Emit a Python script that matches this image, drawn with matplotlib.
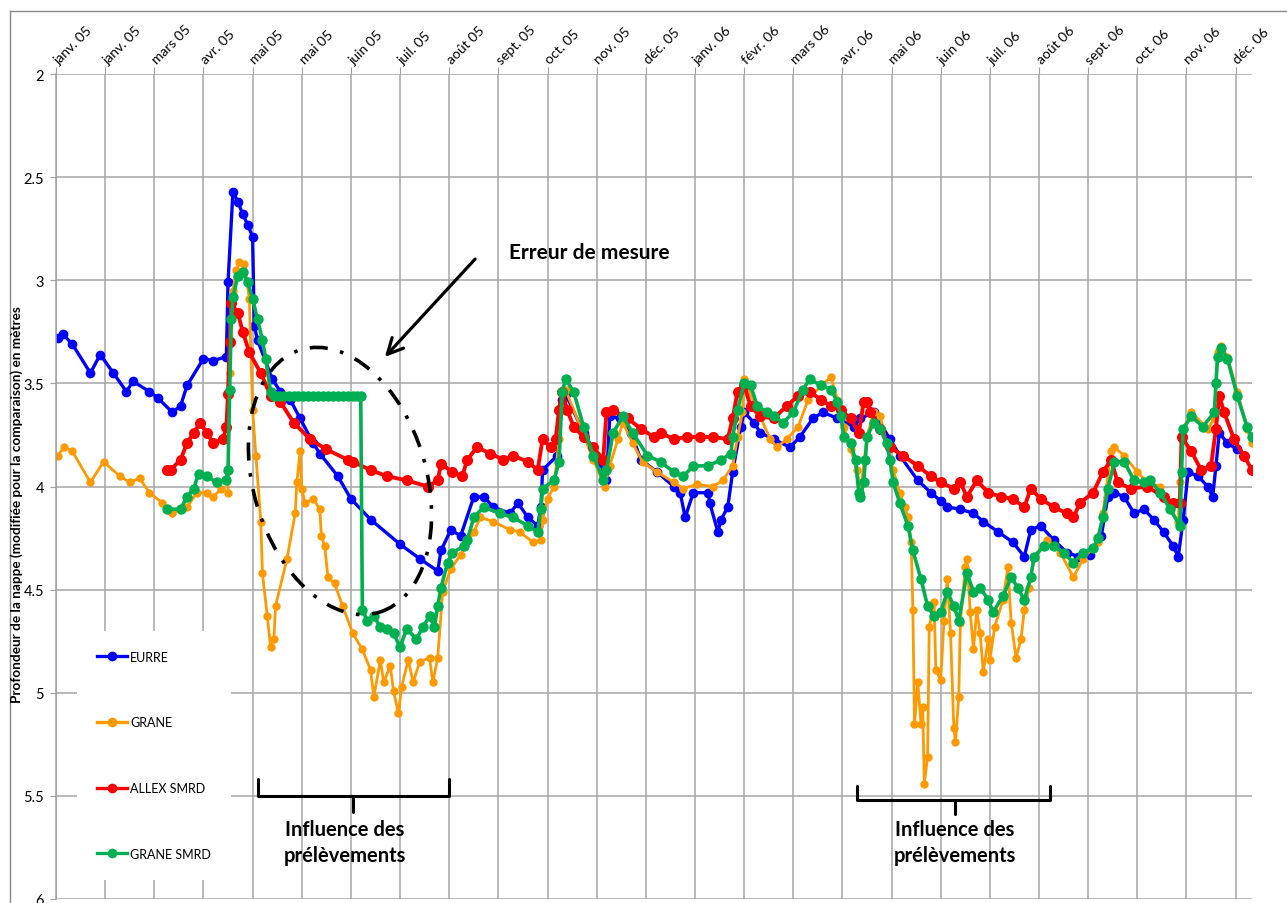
# %% Libraries
import matplotlib.pyplot as plt
from matplotlib.patches import Ellipse
from matplotlib.transforms import IdentityTransform

plt.rcParams['font.family'] = ['Lato', 'DejaVu Sans']

# %% Data (x = days since 1 Jan 2005, y = depth in m)
tick_days = list(range(0, 721, 30))
tick_labels = ['janv. 05', 'janv. 05', 'mars 05', 'avr. 05', 'mai 05', 'mai 05', 'juin 05',
               'juil. 05', 'août 05', 'sept. 05', 'oct. 05', 'nov. 05', 'déc. 05', 'janv. 06',
               'févr. 06', 'mars 06', 'avr. 06', 'mai 06', 'juin 06', 'juil. 06', 'août 06',
               'sept. 06', 'oct. 06', 'nov. 06', 'déc. 06']

eurre_day = [1, 4, 10, 21, 27, 35, 43, 47, 57, 62, 71, 76, 80, 90, 96, 104, 105, 108, 111, 114,
             117, 120, 121, 123, 132, 137, 143, 149, 157, 161, 172, 180, 192, 210, 222, 233, 235,
             241, 247, 255, 261, 267, 277, 282, 288, 294, 296, 297, 306, 309, 311, 322, 332, 336,
             338, 344, 351, 357, 367, 377, 381, 384, 389, 398, 399, 404, 406, 410, 413, 418, 420,
             426, 430, 438, 448, 454, 462, 468, 477, 487, 491, 499, 509, 515, 526, 534, 540, 544,
             552, 560, 566, 575, 584, 591, 595, 601, 609, 617, 624, 631, 638, 642, 646, 652, 658,
             664, 670, 676, 682, 685, 688, 691, 697, 703, 706, 708, 710, 715, 721, 725]
eurre_val = [3.28, 3.26, 3.31, 3.45, 3.36, 3.45, 3.54, 3.49, 3.54, 3.57, 3.64, 3.61, 3.51, 3.38,
             3.39, 3.37, 3.01, 2.57, 2.62, 2.68, 2.73, 2.79, 3.22, 3.29, 3.48, 3.54, 3.58, 3.67,
             3.79, 3.84, 3.95, 4.06, 4.16, 4.28, 4.35, 4.41, 4.31, 4.21, 4.24, 4.05, 4.05, 4.10,
             4.13, 4.08, 4.15, 4.19, 4.10, 3.92, 3.85, 3.58, 3.55, 3.74, 3.88, 3.97, 3.66, 3.67,
             3.74, 3.87, 3.93, 4.00, 4.03, 4.15, 4.03, 4.03, 4.08, 4.22, 4.16, 4.10, 3.93, 3.71,
             3.64, 3.69, 3.74, 3.77, 3.81, 3.76, 3.67, 3.64, 3.67, 3.71, 3.67, 3.64, 3.77, 3.85,
             3.97, 4.03, 4.07, 4.10, 4.11, 4.13, 4.17, 4.22, 4.27, 4.34, 4.21, 4.19, 4.26, 4.32,
             4.34, 4.33, 4.24, 4.05, 4.03, 4.05, 4.13, 4.11, 4.16, 4.22, 4.29, 4.34, 4.16, 3.93,
             3.95, 4.00, 4.05, 3.90, 3.74, 3.79, 3.82, 3.85]

grane_day = [1, 5, 10, 21, 29, 39, 45, 51, 57, 65, 71, 80, 86, 92, 96, 101, 105, 106, 108, 110,
             112, 115, 118, 120, 122, 125, 126, 129, 131, 133, 134, 141, 146, 147, 149, 150, 152,
             157, 161, 162, 164, 166, 170, 175, 181, 187, 192, 194, 198, 200, 204, 206, 209, 211,
             215, 218, 222, 228, 230, 233, 236, 241, 247, 255, 259, 267, 277, 283, 291, 296, 297,
             300, 304, 307, 308, 311, 320, 328, 335, 338, 343, 346, 352, 358, 367, 377, 383, 391,
             401, 407, 413, 416, 419, 420, 428, 436, 440, 446, 453, 459, 467, 473, 477, 481, 485,
             489, 491, 495, 499, 503, 507, 511, 515, 518, 520, 522, 523, 524, 526, 528, 529, 530,
             532, 533, 536, 537, 540, 542, 544, 546, 548, 549, 551, 552, 555, 556, 558, 560, 562,
             564, 566, 569, 570, 573, 578, 581, 583, 586, 589, 591, 594, 597, 605, 613, 621, 627,
             636, 639, 644, 646, 652, 660, 666, 674, 680, 685, 686, 688, 693, 703, 707, 709, 711,
             715, 721, 727, 730]
grane_val = [3.85, 3.81, 3.83, 3.98, 3.88, 3.95, 3.98, 3.96, 4.03, 4.08, 4.13, 4.10, 4.03, 4.03,
             4.05, 4.01, 4.03, 3.45, 3.05, 2.95, 2.91, 2.92, 3.09, 3.63, 3.85, 4.17, 4.42, 4.63,
             4.78, 4.74, 4.58, 4.35, 4.13, 3.98, 3.83, 4.01, 4.08, 4.06, 4.11, 4.24, 4.29, 4.44,
             4.47, 4.58, 4.71, 4.79, 4.89, 5.02, 4.84, 4.95, 4.87, 4.99, 5.10, 4.97, 4.84, 4.95,
             4.85, 4.83, 4.95, 4.83, 4.51, 4.40, 4.33, 4.22, 4.15, 4.17, 4.21, 4.22, 4.27, 4.26,
             4.16, 4.06, 4.00, 3.77, 3.63, 3.53, 3.71, 3.87, 4.00, 3.90, 3.77, 3.69, 3.79, 3.88,
             3.93, 3.98, 4.01, 3.99, 4.00, 3.97, 3.90, 3.76, 3.64, 3.48, 3.63, 3.77, 3.81, 3.77,
             3.71, 3.58, 3.51, 3.47, 3.58, 3.71, 3.82, 3.92, 4.03, 3.76, 3.64, 3.66, 3.79, 3.92,
             4.03, 4.10, 4.15, 4.27, 4.60, 5.15, 4.95, 5.15, 5.07, 5.44, 5.31, 4.68, 4.56, 4.89,
             4.94, 4.65, 4.45, 4.71, 5.17, 5.24, 5.02, 4.66, 4.39, 4.35, 4.61, 4.79, 4.60, 4.71,
             4.90, 4.74, 4.84, 4.68, 4.55, 4.39, 4.66, 4.83, 4.74, 4.60, 4.49, 4.34, 4.26, 4.32,
             4.44, 4.35, 4.27, 4.13, 3.83, 3.81, 3.85, 3.93, 3.98, 4.00, 4.11, 4.17, 3.98, 3.72,
             3.64, 3.72, 3.67, 3.35, 3.32, 3.37, 3.54, 3.72, 3.79]

allex_day = [68, 70, 76, 80, 84, 88, 92, 96, 102, 104, 105, 106, 107, 111, 114, 118, 125, 131,
             137, 145, 155, 165, 178, 181, 192, 202, 214, 227, 233, 235, 242, 248, 251, 257, 265,
             273, 279, 288, 294, 297, 302, 305, 307, 309, 312, 316, 322, 328, 334, 336, 340, 349,
             357, 365, 369, 377, 385, 393, 401, 410, 413, 416, 420, 424, 430, 438, 446, 453, 460,
             467, 473, 479, 485, 490, 493, 495, 497, 503, 509, 517, 526, 534, 540, 548, 552, 556,
             562, 569, 577, 584, 591, 595, 601, 609, 617, 621, 625, 633, 639, 644, 648, 656, 666,
             676, 682, 686, 687, 693, 699, 705, 708, 710, 713, 719, 725, 730]
allex_val = [3.92, 3.92, 3.87, 3.79, 3.74, 3.69, 3.74, 3.79, 3.77, 3.71, 3.55, 3.30, 3.11, 3.16,
             3.25, 3.35, 3.45, 3.56, 3.59, 3.69, 3.77, 3.82, 3.87, 3.88, 3.92, 3.95, 3.97, 4.00,
             3.97, 3.89, 3.93, 3.95, 3.87, 3.81, 3.84, 3.87, 3.85, 3.88, 3.92, 3.77, 3.81, 3.77,
             3.63, 3.54, 3.63, 3.71, 3.76, 3.81, 3.87, 3.64, 3.63, 3.67, 3.72, 3.76, 3.74, 3.77,
             3.76, 3.76, 3.76, 3.77, 3.67, 3.54, 3.51, 3.61, 3.66, 3.67, 3.61, 3.56, 3.54, 3.58,
             3.61, 3.63, 3.67, 3.74, 3.59, 3.59, 3.64, 3.72, 3.81, 3.85, 3.90, 3.95, 3.98, 4.01,
             3.98, 4.05, 3.97, 4.03, 4.05, 4.06, 4.10, 4.01, 4.06, 4.10, 4.13, 4.15, 4.08, 4.03,
             3.93, 3.87, 3.98, 4.01, 4.00, 4.05, 4.08, 4.08, 3.76, 3.83, 3.92, 3.90, 3.72, 3.56,
             3.64, 3.77, 3.85, 3.92]

grane_smrd_day = [68, 76, 80, 84, 87, 92, 98, 104, 105, 106, 107, 108, 111, 114, 117, 120, 123,
                  126, 128, 131, 133, 136, 139, 142, 145, 148, 151, 154, 157, 160, 163, 166, 169,
                  172, 175, 178, 181, 184, 186, 187, 190, 194, 198, 202, 206, 210, 214, 220, 224,
                  228, 231, 233, 235, 239, 242, 249, 251, 255, 261, 271, 279, 288, 294, 296, 297,
                  304, 307, 309, 311, 316, 322, 328, 334, 336, 340, 346, 352, 361, 369, 377, 383,
                  389, 398, 406, 412, 413, 416, 420, 424, 428, 434, 438, 444, 450, 456, 460, 467,
                  473, 477, 479, 481, 485, 488, 490, 491, 493, 494, 495, 499, 503, 507, 509, 511,
                  515, 520, 523, 528, 532, 536, 540, 544, 548, 551, 556, 560, 564, 569, 572, 578,
                  583, 587, 591, 595, 597, 603, 609, 615, 621, 627, 633, 636, 639, 642, 646, 652,
                  658, 664, 668, 674, 680, 686, 687, 688, 693, 700, 707, 708, 709, 711, 715, 721,
                  727, 730]
grane_smrd_val = [4.11, 4.11, 4.05, 4.01, 3.94, 3.95, 3.98, 3.97, 3.92, 3.53, 3.19, 3.08, 2.98,
                  2.96, 3.01, 3.09, 3.19, 3.29, 3.38, 3.54, 3.56, 3.56, 3.56, 3.56, 3.56, 3.56,
                  3.56, 3.56, 3.56, 3.56, 3.56, 3.56, 3.56, 3.56, 3.56, 3.56, 3.56, 3.56, 3.56,
                  4.60, 4.65, 4.63, 4.68, 4.69, 4.71, 4.78, 4.69, 4.74, 4.68, 4.63, 4.68, 4.58,
                  4.49, 4.37, 4.32, 4.29, 4.26, 4.15, 4.10, 4.13, 4.15, 4.19, 4.22, 4.11, 4.01,
                  3.97, 3.88, 3.54, 3.48, 3.54, 3.71, 3.85, 3.97, 3.92, 3.74, 3.66, 3.74, 3.85,
                  3.88, 3.93, 3.95, 3.90, 3.90, 3.87, 3.84, 3.76, 3.63, 3.50, 3.51, 3.61, 3.64,
                  3.66, 3.69, 3.64, 3.53, 3.48, 3.51, 3.53, 3.59, 3.66, 3.76, 3.79, 3.87, 4.03,
                  4.05, 3.98, 3.87, 3.76, 3.69, 3.72, 3.79, 3.87, 3.98, 4.08, 4.19, 4.31, 4.45,
                  4.58, 4.63, 4.61, 4.51, 4.58, 4.65, 4.42, 4.51, 4.49, 4.55, 4.61, 4.53, 4.44,
                  4.49, 4.55, 4.44, 4.34, 4.29, 4.29, 4.32, 4.37, 4.32, 4.30, 4.25, 4.15, 4.01,
                  3.88, 3.88, 3.97, 3.98, 3.97, 4.03, 4.11, 4.19, 3.93, 3.72, 3.66, 3.71, 3.64,
                  3.50, 3.37, 3.33, 3.38, 3.56, 3.71, 3.76]

# %% Figure
fig = plt.figure(figsize=(12.87, 9.04), dpi=100)
ax = fig.add_axes([56 / 1287, 4 / 904, 1196 / 1287, 825 / 904])

ax.plot(eurre_day, eurre_val, color='#0000FF', lw=2.4, marker='o', ms=7.0, mew=0, label='EURRE')
ax.plot(grane_day, grane_val, color='#FF9900', lw=2.0, marker='o', ms=6.0, mew=0, label='GRANE')
ax.plot(allex_day, allex_val, color='#FF0000', lw=2.8, marker='o', ms=8.0, mew=0, label='ALLEX SMRD')
ax.plot(grane_smrd_day, grane_smrd_val, color='#00B050', lw=2.6, marker='o', ms=7.5, mew=0,
        label='GRANE SMRD')

ax.set_xlim(0, 730)
ax.set_ylim(6, 2)
ax.set_yticks([2, 2.5, 3, 3.5, 4, 4.5, 5, 5.5, 6])
ax.set_yticklabels(['2', '2.5', '3', '3.5', '4', '4.5', '5', '5.5', '6'], fontsize=10.5)
ax.set_xticks(tick_days)
ax.xaxis.tick_top()
ax.set_xticklabels(tick_labels, rotation=45, ha='left', va='center', rotation_mode='anchor',
                   fontsize=10)
ax.tick_params(axis='x', direction='out', length=5, color='#A0A0A0', pad=4)
ax.tick_params(axis='y', direction='out', length=4.5, color='#A0A0A0', pad=4)
ax.grid(True, color='#A6A6A6', lw=1.1)
ax.set_axisbelow(True)
for side in ['right', 'bottom', 'top']:
    ax.spines[side].set_visible(False)
ax.spines['left'].set_color('#A0A0A0')
ax.spines['left'].set_linewidth(1.1)

leg = ax.legend(loc='upper left', bbox_to_anchor=(0.012, 0.333), fontsize=9, labelspacing=4.3,
                handlelength=2.4, handletextpad=0.3, borderpad=1.6, frameon=True,
                facecolor='white', edgecolor='none', framealpha=1)
for h in leg.legend_handles:
    h.set_markersize(7)
    h.set_linewidth(2.4)

fig.text(17 / 1287, 1 - 505 / 904, 'Profondeur de la nappe (modifiée pour la comparaison) en mètres',
         rotation=90, fontsize=9.8, fontweight='bold', ha='center', va='center')

# %% Annotations
fig.text(589 / 1287, 1 - 253 / 904, 'Erreur de mesure', fontsize=15, fontweight='bold',
         ha='center', va='center')
ax.annotate('', xy=(383, 904 - 360), xytext=(477, 904 - 258), xycoords='figure pixels',
            textcoords='figure pixels',
            arrowprops=dict(arrowstyle='->', lw=2.3, color='black', mutation_scale=28))

ell = Ellipse((340, 904 - 482), width=173, height=274, angle=16.5, transform=IdentityTransform(),
              fill=False, edgecolor='black', lw=2.6, linestyle=(0, (5, 3.5, 1, 3.5)))
fig.add_artist(ell)

for x0, x1, xm, yt, yb, ym in [(123, 240, 181, 5.42, 5.50, 5.58), (489, 607, 549, 5.45, 5.52, 5.59)]:
    ax.plot([x0, x0, x1, x1], [yt, yb, yb, yt], color='black', lw=2.2, clip_on=False,
            solid_joinstyle='round', solid_capstyle='round')
    ax.plot([xm, xm], [yb, ym], color='black', lw=2.2, clip_on=False, solid_capstyle='round')

for xc in [345, 955]:
    fig.text(xc / 1287, 1 - 843 / 904, 'Influence des\nprélèvements', fontsize=14.5, fontweight='bold',
             ha='center', va='center', linespacing=1.4)

# outer chart frame
fig.add_artist(plt.Line2D([10 / 1287, 1], [1 - 12 / 904, 1 - 12 / 904], color='#888888', lw=1))
fig.add_artist(plt.Line2D([10 / 1287, 10 / 1287], [0, 1 - 12 / 904], color='#888888', lw=1))

fig.savefig('out.png', dpi=100)
